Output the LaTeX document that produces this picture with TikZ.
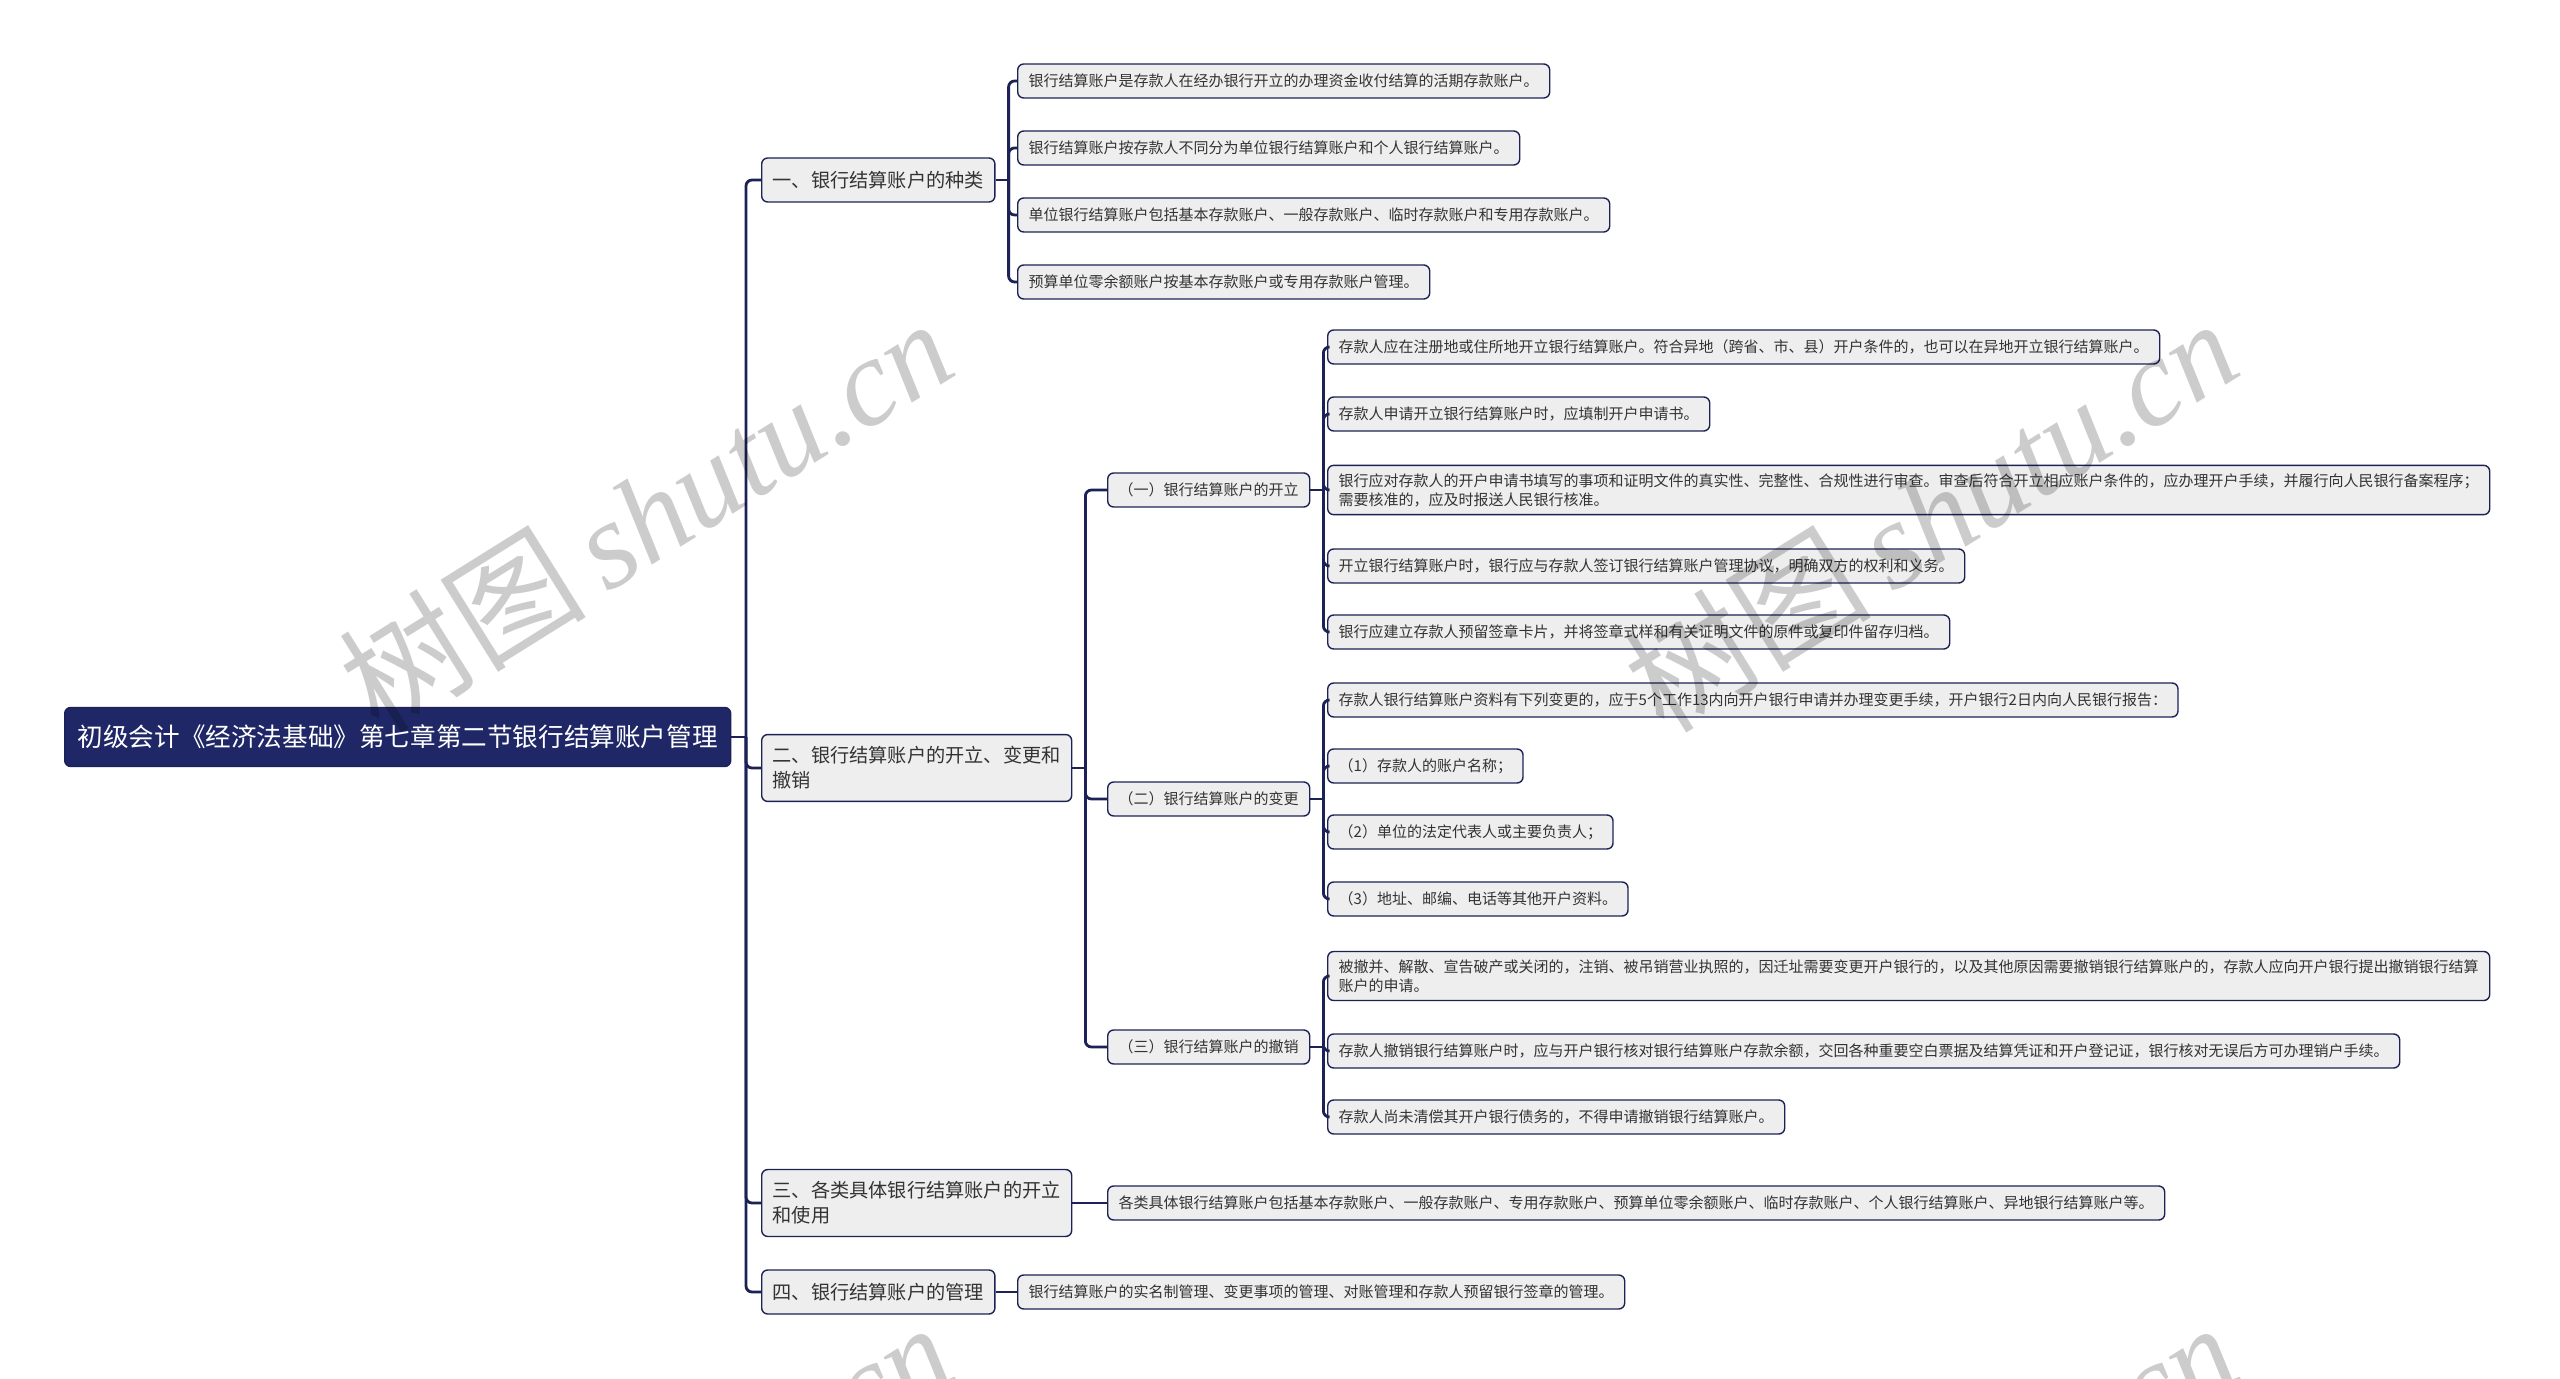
\documentclass[tikz,border=0pt]{standalone}
\usepackage{fontspec}
\setmainfont{Noto Sans CJK SC}
\newfontfamily\wmlatin{Liberation Serif}
\usepackage{tikz}

\definecolor{navy}{HTML}{1C2255}
\definecolor{rootfill}{HTML}{1F2766}
\definecolor{cellfill}{HTML}{EEEEEE}
\definecolor{txt}{HTML}{333333}

\tikzset{
  conn/.style={draw=navy, line width=1.4pt, rounded corners=3pt},
  cell/.style={draw=navy, fill=cellfill, line width=0.7pt, rounded corners=3pt, anchor=west, text=txt},
  rootbox/.style={cell, fill=rootfill, text=white, font=\fontsize{12.8pt}{16pt}\selectfont, inner xsep=6.5pt, minimum height=29.5pt},
  topic/.style={cell, font=\fontsize{9.6pt}{12.5pt}\selectfont, inner xsep=5.5pt, inner ysep=6pt, minimum height=22pt, align=left},
  leaf/.style={cell, font=\fontsize{7.5pt}{9.5pt}\selectfont, inner xsep=5.5pt, inner ysep=4pt, minimum height=17pt, align=left},
  wmark/.style={rotate=32, text=black, text opacity=0.2, font=\fontsize{62pt}{62pt}\selectfont}
}

\begin{document}
\begin{tikzpicture}[x=0.5pt, y=-0.5pt]

    %% Background
    \useasboundingbox (0,0) rectangle (2560,1379);

    % Root
    \node[rootbox] (root) at (64,737) {初级会计《经济法基础》第七章第二节银行结算账户管理};

    % Main topics
    \node[topic] (t1) at (761,180) {一、银行结算账户的种类};
    \node[topic] (t2) at (761,768) {二、银行结算账户的开立、变更和\\撤销};
    \node[topic] (t3) at (761,1203) {三、各类具体银行结算账户的开立\\和使用};
    \node[topic] (t4) at (761,1292) {四、银行结算账户的管理};

    \coordinate (b0) at (746,737);
    \draw[conn] (root.east) -- (b0);
    \foreach \n in {t1,t2,t3,t4}
    {
    \draw[conn] (b0) |- (\n.west);
    }

    % Kinds
    \draw[conn] (t1.east) -- ++(13,0) coordinate (b1);
    \foreach \y/\txt [count=\i] in {
      81/{银行结算账户是存款人在经办银行开立的办理资金收付结算的活期存款账户。},
      148/{银行结算账户按存款人不同分为单位银行结算账户和个人银行结算账户。},
      215/{单位银行结算账户包括基本存款账户、一般存款账户、临时存款账户和专用存款账户。},
      282/{预算单位零余额账户按基本存款账户或专用存款账户管理。}}
    {
    \node[leaf] (k\i) at (1017,\y) {\txt};
    \draw[conn] (b1) |- (k\i.west);
    }

    % Opening, change, closing
    \node[leaf] (s1) at (1107,490) {（一）银行结算账户的开立};
    \node[leaf] (s2) at (1107,799) {（二）银行结算账户的变更};
    \node[leaf] (s3) at (1107,1047) {（三）银行结算账户的撤销};

    \draw[conn] (t2.east) -- ++(13,0) coordinate (b2);
    \foreach \n in {s1,s2,s3}
    {
    \draw[conn] (b2) |- (\n.west);
    }

    \draw[conn] (s1.east) -- ++(13,0) coordinate (bs1);
    \foreach \y/\txt [count=\i] in {
      347/{存款人应在注册地或住所地开立银行结算账户。符合异地（跨省、市、县）开户条件的，也可以在异地开立银行结算账户。},
      414/{存款人申请开立银行结算账户时，应填制开户申请书。},
      490/{银行应对存款人的开户申请书填写的事项和证明文件的真实性、完整性、合规性进行审查。审查后符合开立相应账户条件的，应办理开户手续，并履行向人民银行备案程序；\\需要核准的，应及时报送人民银行核准。},
      566/{开立银行结算账户时，银行应与存款人签订银行结算账户管理协议，明确双方的权利和义务。},
      632/{银行应建立存款人预留签章卡片，并将签章式样和有关证明文件的原件或复印件留存归档。}}
    {
    \node[leaf] (o\i) at (1327,\y) {\txt};
    \draw[conn] (bs1) |- (o\i.west);
    }

    \draw[conn] (s2.east) -- ++(13,0) coordinate (bs2);
    \foreach \y/\txt [count=\i] in {
      700/{存款人银行结算账户资料有下列变更的，应于5个工作13内向开户银行申请并办理变更手续，开户银行2日内向人民银行报告：},
      766/{（1）存款人的账户名称；},
      832/{（2）单位的法定代表人或主要负责人；},
      899/{（3）地址、邮编、电话等其他开户资料。}}
    {
    \node[leaf] (v\i) at (1327,\y) {\txt};
    \draw[conn] (bs2) |- (v\i.west);
    }

    \draw[conn] (s3.east) -- ++(13,0) coordinate (bs3);
    \foreach \y/\txt [count=\i] in {
      976/{被撤并、解散、宣告破产或关闭的，注销、被吊销营业执照的，因迁址需要变更开户银行的，以及其他原因需要撤销银行结算账户的，存款人应向开户银行提出撤销银行结算\\账户的申请。},
      1051/{存款人撤销银行结算账户时，应与开户银行核对银行结算账户存款余额，交回各种重要空白票据及结算凭证和开户登记证，银行核对无误后方可办理销户手续。},
      1117/{存款人尚未清偿其开户银行债务的，不得申请撤销银行结算账户。}}
    {
    \node[leaf] (c\i) at (1327,\y) {\txt};
    \draw[conn] (bs3) |- (c\i.west);
    }

    % Specific accounts and management
    \node[leaf] (u1) at (1107,1203) {各类具体银行结算账户包括基本存款账户、一般存款账户、专用存款账户、预算单位零余额账户、临时存款账户、个人银行结算账户、异地银行结算账户等。};
    \draw[conn] (t3.east) -- (u1.west);

    \node[leaf] (m1) at (1017,1292) {银行结算账户的实名制管理、变更事项的管理、对账管理和存款人预留银行签章的管理。};
    \draw[conn] (t4.east) -- (m1.west);

    % Watermark
    \foreach \wx/\wy [count=\i] in {645/514, 1930/514, 645/1518, 1930/1518}
    {
    \node[wmark] (wm\i) at (\wx,\wy) {树图\,{\wmlatin\itshape shutu.cn}};
    }

\end{tikzpicture}
\end{document}
